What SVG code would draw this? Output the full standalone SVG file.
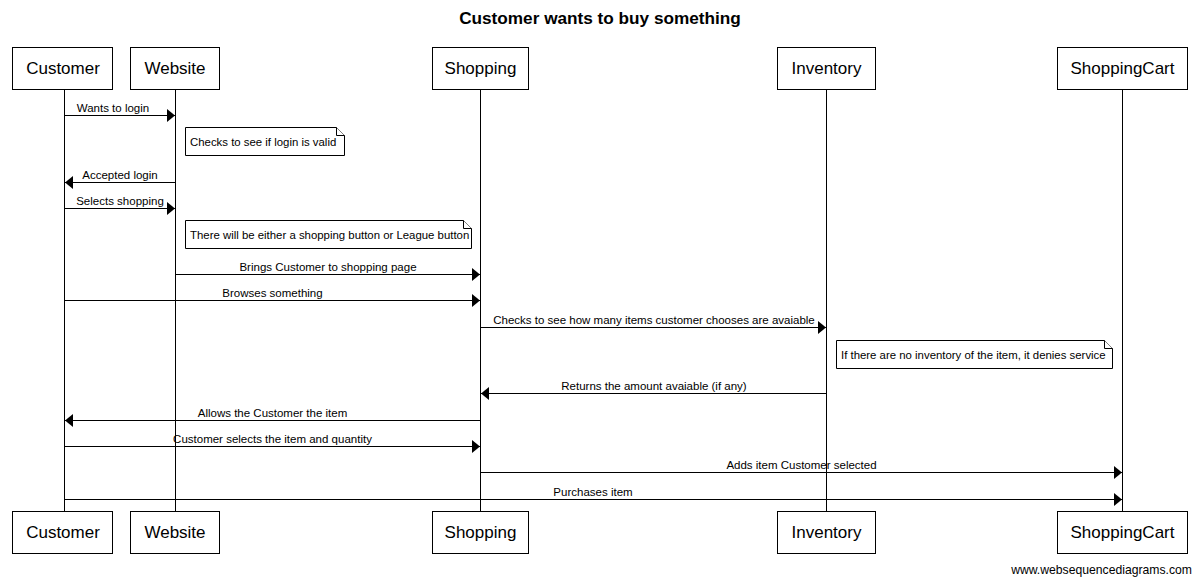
<svg xmlns="http://www.w3.org/2000/svg" width="1200" height="583" viewBox="0 0 1200 583">
<style>
text{font-family:"Liberation Sans",Arial,sans-serif;fill:#000}
.title{font-size:17.2px;font-weight:bold}
.pbox{fill:#fff;stroke:#000;stroke-width:1}
.plabel{font-size:17px;text-anchor:middle}
.life{stroke:#000;stroke-width:1}
.msg{stroke:#000;stroke-width:1;fill:none;marker-end:url(#arr)}
.mlabel{font-size:11.5px;text-anchor:middle}
.note{fill:#fff;stroke:#000;stroke-width:1}
.ntext{font-size:11.4px}
.wm{font-size:12.2px;text-anchor:end}
</style>
<defs>
<marker id="arr" markerUnits="userSpaceOnUse" markerWidth="9" markerHeight="13" refX="8" refY="6.5" orient="auto">
<path d="M0,0 L8,6.5 L0,13 z" fill="#000"/>
</marker>
</defs>
<rect width="1200" height="583" fill="#fff"/>
<text class="title" x="600" y="24" text-anchor="middle">Customer wants to buy something</text>

<g id="lifelines">
<line class="life" x1="64.5" y1="89" x2="64.5" y2="511"/>
<line class="life" x1="175.5" y1="89" x2="175.5" y2="511"/>
<line class="life" x1="480.5" y1="89" x2="480.5" y2="511"/>
<line class="life" x1="826.5" y1="89" x2="826.5" y2="511"/>
<line class="life" x1="1122.5" y1="89" x2="1122.5" y2="511"/>
</g>

<g id="customer">
<rect class="pbox" x="12.5" y="47.5" width="100" height="42"/>
<text class="plabel" x="63" y="74">Customer</text>
<rect class="pbox" x="12.5" y="511.5" width="100" height="42"/>
<text class="plabel" x="63" y="538">Customer</text>
</g>
<g id="website">
<rect class="pbox" x="130.5" y="47.5" width="89" height="42"/>
<text class="plabel" x="175" y="74">Website</text>
<rect class="pbox" x="130.5" y="511.5" width="89" height="42"/>
<text class="plabel" x="175" y="538">Website</text>
</g>
<g id="shopping">
<rect class="pbox" x="432.5" y="47.5" width="96" height="42"/>
<text class="plabel" x="480.5" y="74">Shopping</text>
<rect class="pbox" x="432.5" y="511.5" width="96" height="42"/>
<text class="plabel" x="480.5" y="538">Shopping</text>
</g>
<g id="inventory">
<rect class="pbox" x="777.5" y="47.5" width="98" height="42"/>
<text class="plabel" x="826.5" y="74">Inventory</text>
<rect class="pbox" x="777.5" y="511.5" width="98" height="42"/>
<text class="plabel" x="826.5" y="538">Inventory</text>
</g>
<g id="shoppingcart">
<rect class="pbox" x="1057.5" y="47.5" width="130" height="42"/>
<text class="plabel" x="1122.5" y="74">ShoppingCart</text>
<rect class="pbox" x="1057.5" y="511.5" width="130" height="42"/>
<text class="plabel" x="1122.5" y="538">ShoppingCart</text>
</g>

<g id="note1">
<path class="note" d="M185.5,127.5 H336.5 L344.5,135.5 V155.5 H185.5 Z"/>
<path class="note" d="M336.5,127.5 V135.5 H344.5" fill="none"/>
<text class="ntext" x="190" y="145.5">Checks to see if login is valid</text>
</g>
<g id="note2">
<path class="note" d="M185.5,220.5 H463.5 L471.5,228.5 V248.5 H185.5 Z"/>
<path class="note" d="M463.5,220.5 V228.5 H471.5" fill="none"/>
<text class="ntext" x="190" y="238.5">There will be either a shopping button or League button</text>
</g>
<g id="note3">
<path class="note" d="M836.5,340.5 H1104.5 L1112.5,348.5 V368.5 H836.5 Z"/>
<path class="note" d="M1104.5,340.5 V348.5 H1112.5" fill="none"/>
<text class="ntext" x="841" y="358.5">If there are no inventory of the item, it denies service</text>
</g>

<g id="connectors">
<line class="msg" x1="64.5" y1="115.5" x2="175" y2="115.5"/>
<text class="mlabel" x="113" y="112">Wants to login</text>
<line class="msg" x1="175.5" y1="182.5" x2="65" y2="182.5"/>
<text class="mlabel" x="120" y="179">Accepted login</text>
<line class="msg" x1="64.5" y1="208.5" x2="175" y2="208.5"/>
<text class="mlabel" x="120" y="205">Selects shopping</text>
<line class="msg" x1="175.5" y1="274.5" x2="480" y2="274.5"/>
<text class="mlabel" x="328" y="271">Brings Customer to shopping page</text>
<line class="msg" x1="64.5" y1="300.5" x2="480" y2="300.5"/>
<text class="mlabel" x="272.5" y="297">Browses something</text>
<line class="msg" x1="480.5" y1="327.5" x2="826" y2="327.5"/>
<text class="mlabel" x="654" y="324">Checks to see how many items customer chooses are avaiable</text>
<line class="msg" x1="826.5" y1="393.5" x2="481" y2="393.5"/>
<text class="mlabel" x="654" y="390">Returns the amount avaiable (if any)</text>
<line class="msg" x1="480.5" y1="420.5" x2="65" y2="420.5"/>
<text class="mlabel" x="272.5" y="417">Allows the Customer the item</text>
<line class="msg" x1="64.5" y1="446.5" x2="480" y2="446.5"/>
<text class="mlabel" x="272.5" y="443">Customer selects the item and quantity</text>
<line class="msg" x1="480.5" y1="472.5" x2="1122" y2="472.5"/>
<text class="mlabel" x="801.5" y="469">Adds item Customer selected</text>
<line class="msg" x1="64.5" y1="499.5" x2="1122" y2="499.5"/>
<text class="mlabel" x="593" y="496">Purchases item</text>
</g>

<text class="wm" x="1192" y="574">www.websequencediagrams.com</text>
</svg>
